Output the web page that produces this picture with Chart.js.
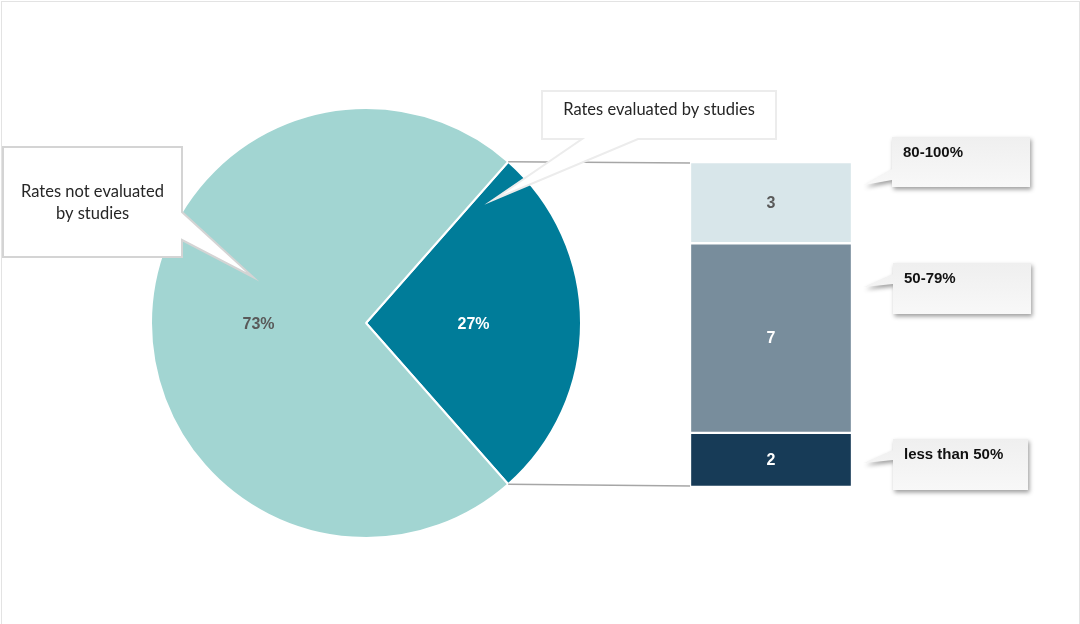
<!DOCTYPE html>
<html>
<head>
<meta charset="utf-8">
<script src="https://cdn.jsdelivr.net/npm/chart.js@4.4.1/dist/chart.umd.min.js"></script>
<style>
  html, body { margin: 0; padding: 0; background: #fff; }
  #wrap { position: relative; width: 1080px; height: 624px; overflow: hidden; }
  #pie { position: absolute; left: 0; top: 0; }
  #bar { position: absolute; left: 690px; top: 162px; }
  #frame { position: absolute; left: 1px; top: 1px; right: 0; bottom: -2px;
           border: 1px solid #e3e3e3; pointer-events: none; }
</style>
</head>
<body>
<div id="wrap">
  <canvas id="pie" width="1080" height="624"></canvas>
  <canvas id="bar" width="162" height="325"></canvas>
  <div id="frame"></div>
</div>
<script>
( function () {
    'use strict';

    // pie: share of rates with / without a study
    var pieLabels = [ 'Rates evaluated by studies', 'Rates not evaluated by studies' ];
    var pieValues = [ 27, 73 ];
    var pieColors = [ '#007c99', '#a2d5d2' ];
    var pieText   = [ '#ffffff', '#595959' ];

    // bar: evaluated rates split by coverage band (bottom to top)
    var barLabels = [ 'less than 50%', '50-79%', '80-100%' ];
    var barValues = [ 2, 7, 3 ];
    var barColors = [ '#173b57', '#788d9c', '#d8e6ea' ];
    var barText   = [ '#ffffff', '#ffffff', '#595959' ];

    var barTotal = barValues.reduce( function ( a, b ) { return a + b; }, 0 );

    var calloutFont = '16.5px Lato, "Open Sans", sans-serif';
    var bandFont    = 'bold 15px "Liberation Sans", Arial, sans-serif';
    var valueFont   = 'bold 16px "Liberation Sans", Arial, sans-serif';

    /* ── Stacked bar ─────────────────────────────────────────────────────── */
    var barValueLabels = {
        id: 'barValueLabels',
        afterDatasetsDraw: function ( chart ) {
            var ctx = chart.ctx;
            ctx.save();
            ctx.font = valueFont;
            ctx.textAlign = 'center';
            ctx.textBaseline = 'middle';
            chart.data.datasets.forEach( function ( ds, i ) {
                var el = chart.getDatasetMeta( i ).data[ 0 ];
                ctx.fillStyle = barText[ i ];
                ctx.fillText( String( ds.data[ 0 ] ), el.x, ( el.y + el.base ) / 2 + 1 );
            } );
            ctx.restore();
        },
    };

    var barChart = new Chart( document.getElementById( 'bar' ), {
        type: 'bar',
        data: {
            labels: [ pieLabels[ 0 ] ],
            datasets: barLabels.map( function ( label, i ) {
                return {
                    label:              label,
                    data:               [ barValues[ i ] ],
                    backgroundColor:    barColors[ i ],
                    borderColor:        '#ffffff',
                    borderWidth:        1.5,
                    borderSkipped:      false,
                    barPercentage:      1,
                    categoryPercentage: 1,
                };
            } ),
        },
        options: {
            responsive:       false,
            animation:        false,
            devicePixelRatio: 1,
            layout:  { padding: 0 },
            plugins: { legend: { display: false }, tooltip: { enabled: false } },
            scales: {
                x: { stacked: true, display: false },
                y: { stacked: true, display: false, min: 0, max: barTotal },
            },
        },
        plugins: [ barValueLabels ],
    } );

    /* ── Callouts ────────────────────────────────────────────────────────── */
    function calloutPath( ctx, c ) {
        var b = c.box, x = b.x, y = b.y, r = b.x + b.w, btm = b.y + b.h;
        ctx.beginPath();
        ctx.moveTo( x, y );
        ctx.lineTo( r, y );
        if ( c.side === 'right' ) {
            ctx.lineTo( r, c.base[ 0 ] );
            ctx.lineTo( c.tip[ 0 ], c.tip[ 1 ] );
            ctx.lineTo( r, c.base[ 1 ] );
        }
        ctx.lineTo( r, btm );
        if ( c.side === 'bottom' ) {
            ctx.lineTo( c.base[ 1 ], btm );
            ctx.lineTo( c.tip[ 0 ], c.tip[ 1 ] );
            ctx.lineTo( c.base[ 0 ], btm );
        }
        ctx.lineTo( x, btm );
        if ( c.side === 'left' ) {
            ctx.lineTo( x, c.base[ 1 ] );
            ctx.lineTo( c.tip[ 0 ], c.tip[ 1 ] );
            ctx.lineTo( x, c.base[ 0 ] );
        }
        ctx.closePath();
    }

    function drawOutlined( ctx, c ) {
        ctx.save();
        calloutPath( ctx, c );
        ctx.fillStyle = '#ffffff';
        ctx.fill();
        ctx.lineWidth = 2;
        ctx.strokeStyle = c.stroke;
        ctx.lineJoin = 'miter';
        ctx.stroke();
        ctx.fillStyle = '#262626';
        ctx.font = calloutFont;
        ctx.textAlign = 'center';
        ctx.textBaseline = 'middle';
        c.lines.forEach( function ( line, i ) {
            ctx.fillText( line, c.box.x + c.box.w / 2, c.textY + i * 22 );
        } );
        ctx.restore();
    }

    function drawShaded( ctx, c ) {
        ctx.save();
        calloutPath( ctx, c );
        ctx.shadowColor   = 'rgba(0,0,0,0.38)';
        ctx.shadowBlur    = 4;
        ctx.shadowOffsetX = 1.5;
        ctx.shadowOffsetY = 2.5;
        var g = ctx.createLinearGradient( 0, c.box.y, 0, c.box.y + c.box.h );
        g.addColorStop( 0, '#efefef' );
        g.addColorStop( 1, '#f8f8f8' );
        ctx.fillStyle = g;
        ctx.fill();
        ctx.restore();
        ctx.save();
        ctx.fillStyle = '#111111';
        ctx.font = bandFont;
        ctx.textAlign = 'left';
        ctx.textBaseline = 'middle';
        ctx.fillText( c.lines[ 0 ], c.box.x + 11, c.textY );
        ctx.restore();
    }

    var pieCallouts = [
        { box: { x: 3, y: 147, w: 179, h: 110 }, side: 'right', base: [ 212, 240 ], tip: [ 253, 277 ],
          stroke: '#d4d4d4', lines: [ 'Rates not evaluated', 'by studies' ], textY: 192 },
        { box: { x: 542, y: 91, w: 234, h: 48 }, side: 'bottom', base: [ 582, 638 ], tip: [ 493, 200 ],
          stroke: '#ececec', lines: [ pieLabels[ 0 ] ], textY: 110 },
    ];

    var bandCallouts = [
        { box: { x: 892, y: 137, w: 138, h: 50 }, side: 'left', base: [ 169, 180 ], tip: [ 864, 185 ],
          lines: [ barLabels[ 2 ] ], textY: 153 },
        { box: { x: 893, y: 263, w: 138, h: 51 }, side: 'left', base: [ 274, 284 ], tip: [ 864, 287 ],
          lines: [ barLabels[ 1 ] ], textY: 279 },
        { box: { x: 893, y: 439, w: 135, h: 51 }, side: 'left', base: [ 450, 460 ], tip: [ 864, 463 ],
          lines: [ barLabels[ 0 ] ], textY: 455 },
    ];

    /* ── Pie with connectors to the bar ──────────────────────────────────── */
    var pieExtras = {
        id: 'pieExtras',
        afterDraw: function ( chart ) {
            var ctx  = chart.ctx;
            var arcs = chart.getDatasetMeta( 0 ).data;

            // percentage labels
            ctx.save();
            ctx.font = valueFont;
            ctx.textAlign = 'center';
            ctx.textBaseline = 'middle';
            arcs.forEach( function ( arc, i ) {
                var mid = ( arc.startAngle + arc.endAngle ) / 2;
                var r   = arc.outerRadius * 0.5;
                ctx.fillStyle = pieText[ i ];
                ctx.fillText( pieValues[ i ] + '%', arc.x + Math.cos( mid ) * r, arc.y + Math.sin( mid ) * r + 2 );
            } );
            ctx.restore();

            // lines from the evaluated slice to the bar
            var slice  = arcs[ 0 ];
            var canvas = barChart.canvas;
            var top    = barChart.getDatasetMeta( barLabels.length - 1 ).data[ 0 ];
            var bottom = barChart.getDatasetMeta( 0 ).data[ 0 ];
            var barLeft = canvas.offsetLeft + top.x - top.width / 2 + 1;
            var ends = [
                [ slice.startAngle, canvas.offsetTop + top.y + 1 ],
                [ slice.endAngle,   canvas.offsetTop + bottom.base - 1 ],
            ];
            ctx.save();
            ctx.strokeStyle = '#a6a6a6';
            ctx.lineWidth = 1.5;
            ends.forEach( function ( e ) {
                ctx.beginPath();
                ctx.moveTo( slice.x + Math.cos( e[ 0 ] ) * slice.outerRadius,
                            slice.y + Math.sin( e[ 0 ] ) * slice.outerRadius );
                ctx.lineTo( barLeft, e[ 1 ] );
                ctx.stroke();
            } );
            ctx.restore();

            pieCallouts.forEach( function ( c ) { drawOutlined( ctx, c ); } );
            bandCallouts.forEach( function ( c ) { drawShaded( ctx, c ); } );
        },
    };

    var half = pieValues[ 0 ] / 100 * 180;

    new Chart( document.getElementById( 'pie' ), {
        type: 'pie',
        data: {
            labels: pieLabels,
            datasets: [ {
                data:            pieValues,
                backgroundColor: pieColors,
                borderColor:     '#ffffff',
                borderWidth:     2,
            } ],
        },
        options: {
            responsive:       false,
            animation:        false,
            devicePixelRatio: 1,
            rotation:         90 - half,
            layout:  { padding: { left: 150, right: 498, top: 107, bottom: 85 } },
            plugins: { legend: { display: false }, tooltip: { enabled: false } },
        },
        plugins: [ pieExtras ],
    } );

} )();
</script>
</body>
</html>
